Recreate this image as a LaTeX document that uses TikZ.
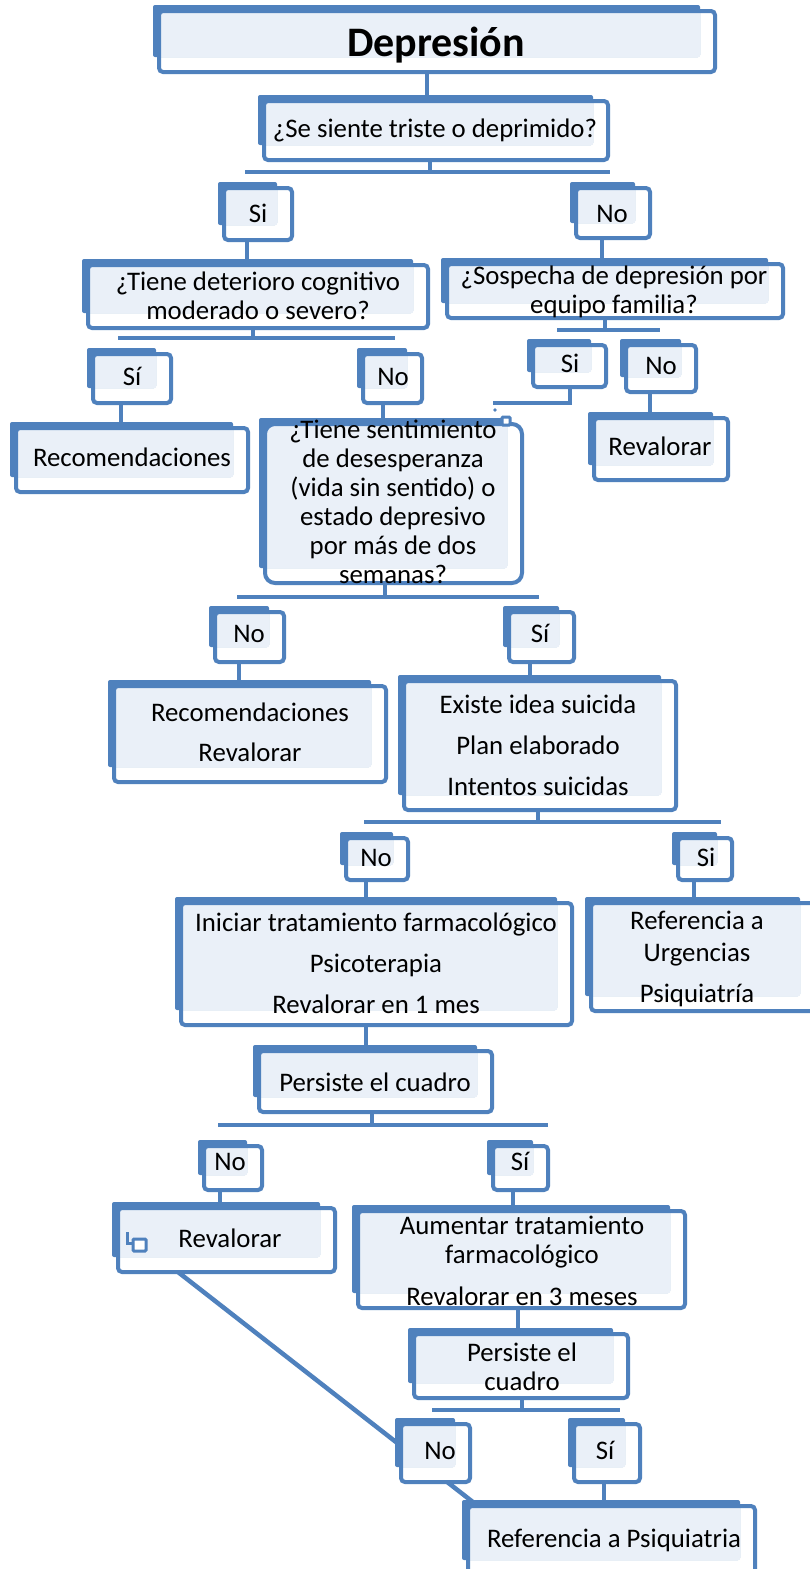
\documentclass[tikz,border=0pt]{standalone}
\usepackage{fontspec}
\setmainfont{Carlito}
\usetikzlibrary{calc}
\definecolor{boxblue}{HTML}{4F81BD}
\definecolor{boxfill}{HTML}{EAF0F8}
\pgfdeclarelayer{lines}
\pgfdeclarelayer{bfront}
\pgfdeclarelayer{bback}
\pgfsetlayers{lines,bfront,bback,main}

\tikzset{
  boxframe/.style={draw=boxblue, line width=4pt, inner sep=0pt, outer sep=0pt},
  boxtext/.style={inner sep=0pt, align=center, anchor=base, font=\fontsize{26.8}{29}\selectfont},
  link/.style={draw=boxblue, line width=4.5pt},
  handle/.style={draw=boxblue, line width=3pt, fill=white, rounded corners=1pt},
}

% \flowbox[radius]{name}{left}{top}{right}{bottom}{text x}{last baseline}{text}
% a solid back panel up-left, a white framed panel down-right, light fill between
\newcommand\flowbox[9][4pt]{%
  \node[boxframe, rounded corners=#1, minimum width={#5-#3-6}, minimum height={#6-#4-6}]
    (#2) at ({(#3+6+#5)/2},{(#4+6+#6)/2}) {};
  \begin{pgfonlayer}{bfront}
    \fill[white, rounded corners=#1] (#2.south west) rectangle (#2.north east);
  \end{pgfonlayer}
  \begin{pgfonlayer}{bback}
    \fill[boxblue, rounded corners=2pt] (#3,#4) rectangle ({#5-15},{#6-15});
    \fill[boxfill] ({#3+8},{#4+8}) rectangle ({#5-15},{#6-15});
  \end{pgfonlayer}
  \node[boxtext] (#2-t) at (#7,#8) {#9};
}

\begin{document}
\begin{tikzpicture}[x=1pt,y=-1pt]
\useasboundingbox (0,0) rectangle (809,1569);
\begin{pgfonlayer}{lines}
  \fill[white] (0,0) rectangle (809,1569);
\end{pgfonlayer}

% ---- boxes ----
\flowbox{n1}{153}{5}{715}{72}{436}{56}{\fontsize{42}{50}\selectfont\bfseries Depresión}
\flowbox{n2}{258}{95}{608}{160}{435}{137}{¿Se siente triste o deprimido?}
\flowbox{n3}{218}{182}{292}{240}{258}{222}{Si}
\flowbox{n4}{570}{182}{650}{238}{612}{222}{No}
\flowbox{n5}{82}{259}{428}{328}{258}{319}{¿Tiene deterioro cognitivo\\moderado o severo?}
\flowbox{n6}{441}{258}{783}{318}{614}{313}{¿Sospecha de depresión por\\equipo familia?}
\flowbox{n7}{87}{348}{171}{403}{132}{385}{Sí}
\flowbox{n8}{357}{348}{422}{403}{393}{385}{No}
\flowbox{n9}{527}{339}{606}{387}{570}{372}{Si}
\flowbox{n10}{620}{339}{696}{392}{661}{374}{No}
\flowbox{n11}{10}{422}{248}{492}{132}{466}{Recomendaciones}
\flowbox[10pt]{n12}{259}{418}{522}{583}{393}{583}{¿Tiene sentimiento\\de desesperanza\\(vida sin sentido) o\\estado depresivo\\por más de dos\\semanas?}
\flowbox{n13}{588}{412}{728}{480}{660}{455}{Revalorar}
\flowbox{n14}{209}{606}{284}{662}{249}{642}{No}
\flowbox{n15}{503}{606}{574}{662}{540}{642}{Sí}
\flowbox{n16}{108}{680}{386}{782}{250}{761}{Recomendaciones\\[11pt]Revalorar}
\flowbox{n17}{398}{675}{676}{810}{538}{795}{Existe idea suicida\\[12pt]Plan elaborado\\[12pt]Intentos suicidas}
\flowbox{n18}{340}{832}{408}{880}{376}{866}{No}
\flowbox{n19}{672}{832}{732}{880}{706}{866}{Si}
\flowbox{n20}{175}{897}{572}{1025}{376}{1013}{Iniciar tratamiento farmacológico\\[12pt]Psicoterapia\\[12pt]Revalorar en 1 mes}
\flowbox{n21}{585}{897}{815}{1011}{697}{1002}{Referencia a\\[3pt]Urgencias\\[12pt]Psiquiatría}
\flowbox{n22}{253}{1045}{492}{1112}{375}{1091}{Persiste el cuadro}
\flowbox{n23}{198}{1140}{262}{1190}{230}{1170}{No}
\flowbox{n24}{487}{1140}{548}{1190}{520}{1170}{Sí}
\flowbox{n25}{112}{1202}{335}{1272}{230}{1247}{Revalorar}
\flowbox{n26}{352}{1205}{685}{1308}{522}{1305}{Aumentar tratamiento\\farmacológico\\[13pt]Revalorar en 3 meses}
\flowbox{n27}{408}{1328}{628}{1398}{522}{1390}{Persiste el\\cuadro}
\flowbox{n28}{395}{1418}{470}{1482}{440}{1459}{No}
\flowbox{n29}{568}{1418}{640}{1482}{605}{1459}{Sí}
\flowbox{n30}{462}{1500}{755}{1575}{614}{1547}{Referencia a Psiquiatria}

% ---- branch bars ----
\coordinate (bar1l) at (245,172);  \coordinate (bar1r) at (610,172);
\coordinate (bar2l) at (118,338);  \coordinate (bar2r) at (395,338);
\coordinate (bar3l) at (557,330);  \coordinate (bar3r) at (660,330);
\coordinate (bar4l) at (237,597);  \coordinate (bar4r) at (539,597);
\coordinate (bar5l) at (364,822);  \coordinate (bar5r) at (721,822);
\coordinate (bar6l) at (218,1125); \coordinate (bar6r) at (548,1125);
\coordinate (bar7l) at (432,1410); \coordinate (bar7r) at (620,1410);
\coordinate (loose) at (493,403);

% ---- connectors ----
\draw[link] (n1.south -| 427,0) -- (n2.north -| 427,0);
\draw[link] (n2.south -| 430,0) -- (bar1l -| 430,0);
\draw[link] (bar1l) -- (bar1r);
\draw[link] (n3.south -| 247,0) -- (n5.north -| 247,0);
\draw[link] (n4.south -| 602,0) -- (n6.north -| 602,0);
\draw[link] (n5.south -| 253,0) -- (bar2l -| 253,0);
\draw[link] (bar2l) -- (bar2r);
\draw[link] (n6.south -| 605,0) -- (bar3l -| 605,0);
\draw[link] (bar3l) -- (bar3r);
\draw[link] (n7.south -| 121,0) -- (n11.north -| 121,0);
\draw[link] (n8.south -| 383,0) -- (n12.north -| 383,0);
\draw[link] (n9.south -| 570,0) |- (loose);
\draw[link] (n10.south -| 650,0) -- (n13.north -| 650,0);
\draw[link] (n12.south -| 385,0) -- (bar4l -| 385,0);
\draw[link] (bar4l) -- (bar4r);
\draw[link] (n14.south -| 239,0) -- (n16.north -| 239,0);
\draw[link] (n15.south -| 530,0) -- (n17.north -| 530,0);
\draw[link] (n17.south -| 538,0) -- (bar5l -| 538,0);
\draw[link] (bar5l) -- (bar5r);
\draw[link] (n18.south -| 366,0) -- (n20.north -| 366,0);
\draw[link] (n19.south -| 694,0) -- (n21.north -| 694,0);
\draw[link] (n20.south -| 366,0) -- (n22.north -| 366,0);
\draw[link] (n22.south -| 372,0) -- (bar6l -| 372,0);
\draw[link] (bar6l) -- (bar6r);
\draw[link] (n23.south -| 220,0) -- (n25.north -| 220,0);
\draw[link] (n24.south -| 513,0) -- (n26.north -| 513,0);
\draw[link] (n26.south -| 518,0) -- (n27.north -| 518,0);
\draw[link] (n27.south -| 522,0) -- (bar7l -| 522,0);
\draw[link] (bar7l) -- (bar7r);
\draw[link] (n29.south -| 604,0) -- (n30.north -| 604,0);
\begin{pgfonlayer}{lines}
  \draw[link] (n25.south -| 178,0) -- (n30.north -| 478,0);
\end{pgfonlayer}

% ---- small handles ----
\draw[handle] (502,417) rectangle (510,425);
\fill[boxblue] (495,410) circle (1.8pt);
\draw[boxblue, line width=3pt] (127,1232) -- (127,1243) -- (133,1243);
\draw[handle] (133,1239) rectangle (146,1251);
\end{tikzpicture}
\end{document}
